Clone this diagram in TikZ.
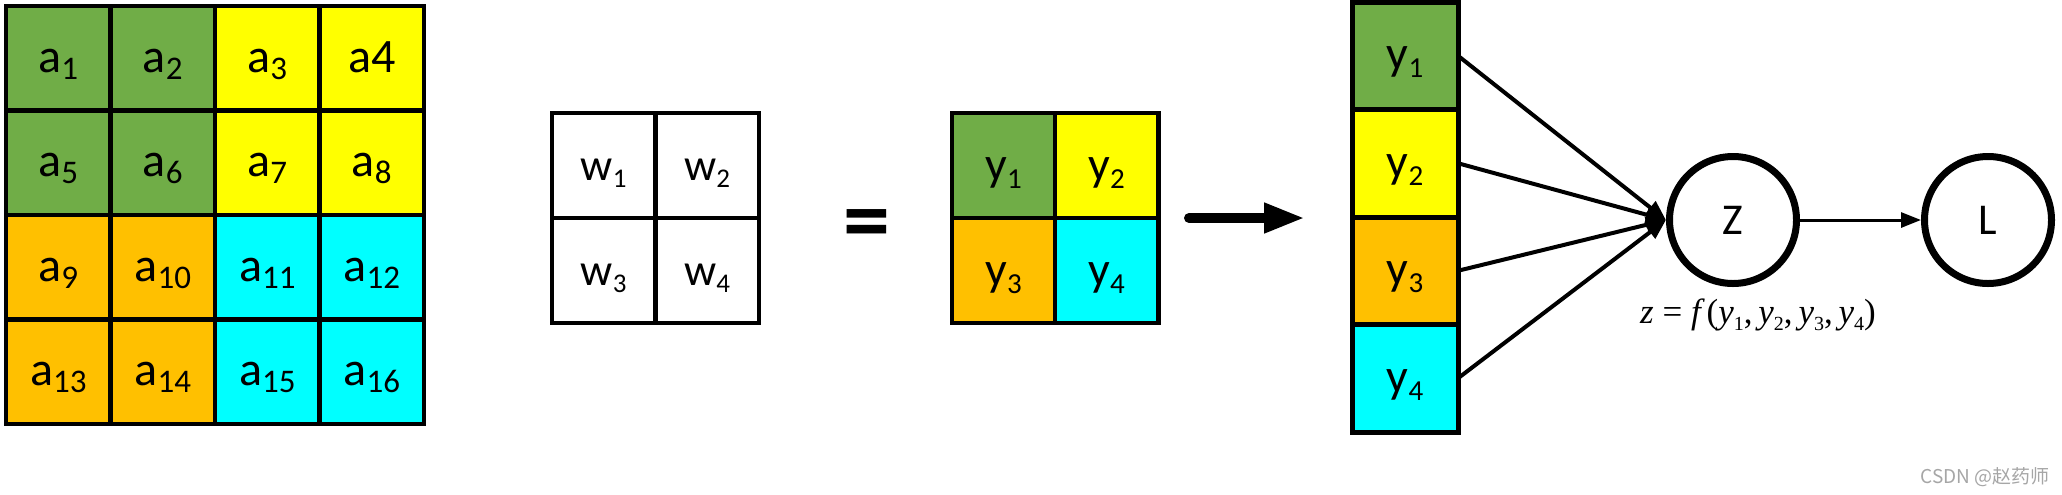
\documentclass[tikz,border=0pt]{standalone}
\usepackage{fontspec}
\setmainfont{Carlito}
\newfontfamily\timesf{Liberation Serif}
\newfontfamily\cjk{Noto Sans CJK SC}
\usetikzlibrary{arrows.meta}
\definecolor{cgreen}{HTML}{70AD47}
\definecolor{cyel}{HTML}{FFFF00}
\definecolor{corange}{HTML}{FFC000}
\definecolor{ccyan}{HTML}{00FFFF}
\newcommand{\asub}[1]{\raisebox{-3.5pt}{\fontsize{16.5}{16.5}\selectfont #1}}
\newcommand{\wsub}[1]{\raisebox{-3.5pt}{\fontsize{13.5}{13.5}\selectfont #1}}
\newcommand{\ysub}[1]{\raisebox{-4pt}{\fontsize{14.5}{14.5}\selectfont #1}}
\newcommand{\fsub}[1]{\raisebox{-3.5pt}{\fontsize{10}{10}\selectfont\upshape #1}}
\tikzset{
  cellA/.style={draw, line width=2.25pt, minimum width=52.25pt, minimum height=52.25pt,
    inner sep=0pt, outer sep=0pt, text height=14pt, text depth=0pt,
    font=\fontsize{24}{24}\selectfont},
  cellW/.style={draw, line width=2.25pt, minimum width=51.75pt, minimum height=52.5pt,
    inner sep=0pt, outer sep=0pt, text height=15pt, text depth=0pt,
    font=\fontsize{22.5}{22.5}\selectfont},
  cellYg/.style={cellW, font=\fontsize{24}{24}\selectfont},
  cellY/.style={draw, line width=2.5pt, minimum width=53pt, minimum height=53.75pt,
    inner sep=0pt, outer sep=0pt, text height=14pt, text depth=0pt,
    font=\fontsize{24}{24}\selectfont},
  circ/.style={circle, draw, line width=3.5pt, minimum size=63.5pt, inner sep=0pt,
    font=\fontsize{22}{22}\selectfont},
  conn/.style={line width=2pt, -{Triangle[length=10pt,width=8pt]}},
  thinarrow/.style={line width=1.5pt, -{Triangle[length=10pt,width=7.5pt]}},
  bigarrow/.style={line width=5pt, line cap=round, -{Triangle[length=20.5pt,width=14pt]}},
}
\begin{document}
\begin{tikzpicture}[x=0.5pt,y=-0.5pt]
\fill[white] (0,0) rectangle (2062,494);
\useasboundingbox (0,0) rectangle (2062,494);
% big 4x4 grid
\node[cellA, fill=cgreen]  (a1)  at (58.25,58.25)   {a\asub{1}};
\node[cellA, fill=cgreen]  (a2)  at (162.75,58.25)  {a\asub{2}};
\node[cellA, fill=cyel]    (a3)  at (267.25,58.25)  {a\asub{3}};
\node[cellA, fill=cyel]    (a4)  at (371.75,58.25)  {a4};
\node[cellA, fill=cgreen]  (a5)  at (58.25,162.75)  {a\asub{5}};
\node[cellA, fill=cgreen]  (a6)  at (162.75,162.75) {a\asub{6}};
\node[cellA, fill=cyel]    (a7)  at (267.25,162.75) {a\asub{7}};
\node[cellA, fill=cyel]    (a8)  at (371.75,162.75) {a\asub{8}};
\node[cellA, fill=corange] (a9)  at (58.25,267.25)  {a\asub{9}};
\node[cellA, fill=corange] (a10) at (162.75,267.25) {a\asub{10}};
\node[cellA, fill=ccyan]   (a11) at (267.25,267.25) {a\asub{11}};
\node[cellA, fill=ccyan]   (a12) at (371.75,267.25) {a\asub{12}};
\node[cellA, fill=corange] (a13) at (58.25,371.75)  {a\asub{13}};
\node[cellA, fill=corange] (a14) at (162.75,371.75) {a\asub{14}};
\node[cellA, fill=ccyan]   (a15) at (267.25,371.75) {a\asub{15}};
\node[cellA, fill=ccyan]   (a16) at (371.75,371.75) {a\asub{16}};
% w grid
\node[cellW, fill=white] (w1) at (603.75,165.5) {w\wsub{1}};
\node[cellW, fill=white] (w2) at (707.25,165.5) {w\wsub{2}};
\node[cellW, fill=white] (w3) at (603.75,270.5) {w\wsub{3}};
\node[cellW, fill=white] (w4) at (707.25,270.5) {w\wsub{4}};
% equals
\node[inner sep=0pt, anchor=base, font=\fontsize{47}{47}\selectfont\bfseries] (eq) at (867,251) {=};
% y grid
\node[cellYg, fill=cgreen]  (y1) at (1003.5,165.5) {y\ysub{1}};
\node[cellYg, fill=cyel]    (y2) at (1106.5,165.5) {y\ysub{2}};
\node[cellYg, fill=corange] (y3) at (1003.5,270.5) {y\ysub{3}};
\node[cellYg, fill=ccyan]   (y4) at (1106.5,270.5) {y\ysub{4}};
% big arrow
\coordinate (bs) at (1189,218);
\coordinate (be) at (1305,218);
\draw[bigarrow] (bs) -- (be);
% y column
\node[cellY, fill=cgreen]  (yc1) at (1405,55.75)  {y\ysub{1}};
\node[cellY, fill=cyel]    (yc2) at (1405,163.25) {y\ysub{2}};
\node[cellY, fill=corange] (yc3) at (1405,270.75) {y\ysub{3}};
\node[cellY, fill=ccyan]   (yc4) at (1405,378.25) {y\ysub{4}};
% circles
\node[circ] (Z) at (1733,220) {Z};
\node[circ] (L) at (1988,220) {L};
\draw[conn] (yc1.east) -- (Z.west);
\draw[conn] (yc2.east) -- (Z.west);
\draw[conn] (yc3.east) -- (Z.west);
\draw[conn] (yc4.east) -- (Z.west);
\draw[thinarrow] (Z) -- (L);
% formula
\node[anchor=base, inner sep=0pt, font=\timesf\fontsize{17.5}{20}\selectfont] (fz) at (1758,323)
  {\itshape z\upshape\ =\ \itshape f\,\upshape(\itshape y\fsub{1}\upshape,\,\itshape y\fsub{2}\upshape,\,\itshape y\fsub{3}\upshape,\,\itshape y\fsub{4}\upshape)};
% watermark
\node[anchor=base east, inner sep=0pt, text=black!35, font=\cjk\fontsize{9.5}{10}\selectfont] (wm) at (2050,483) {CSDN @赵药师};
\end{tikzpicture}
\end{document}
